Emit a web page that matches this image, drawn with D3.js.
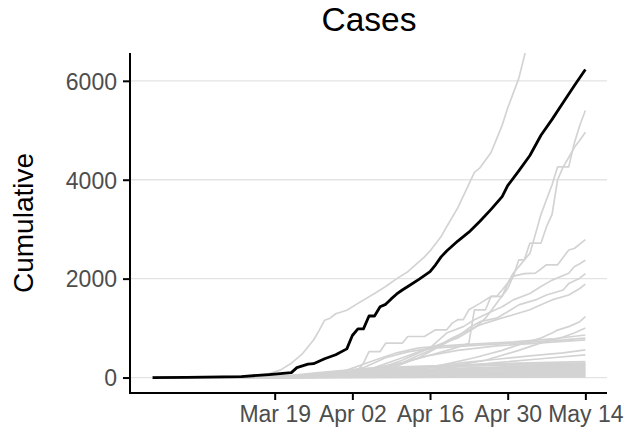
<!DOCTYPE html>
<html><head><meta charset="utf-8">
<script src="https://cdn.jsdelivr.net/npm/d3@7"></script>
<style>
html,body{margin:0;padding:0;background:#fff;}
svg{display:block;font-family:"Liberation Sans",Arial,Helvetica,sans-serif;}
</style></head>
<body><svg id="chart" width="626" height="436"></svg>
<script>
// ---- data ----
const startDate = "2020-02-26";
const endDate = "2020-05-14";
const yLimit = 6250;
const title = "Cases";
const yTitle = "Cumulative";
const yTicks = [0, 2000, 4000, 6000];
const xTickDates = ["2020-03-19", "2020-04-02", "2020-04-16", "2020-04-30", "2020-05-14"];
const xTickLabels = ["Mar 19", "Apr 02", "Apr 16", "Apr 30", "May 14"];

// highlighted (black) series: days since start, cumulative value
const totalDays = [0, 6, 16, 21, 25, 26, 28, 29, 30, 31, 33, 35, 36, 37, 38, 39, 40, 41, 42, 43, 44, 45, 46, 48, 50, 51, 52, 53, 55, 57, 59, 61, 63, 64, 66, 68, 70, 72, 74, 76, 78];
const totalValues = [0, 5, 20, 60, 100, 200, 270, 280, 330, 380, 460, 580, 850, 985, 985, 1245, 1245, 1430, 1480, 1590, 1690, 1770, 1840, 1985, 2140, 2280, 2440, 2560, 2760, 2940, 3160, 3400, 3660, 3880, 4180, 4490, 4900, 5220, 5560, 5900, 6230];

// grey series with their own read points
const grey1Days = [0, 14, 18, 21, 23, 25, 27, 29, 30, 31, 32, 33, 35, 37, 40, 42, 44, 46, 49, 50, 52, 53, 55, 58, 59, 61, 63, 64, 66, 67, 68, 70, 74, 78];
const grey1Values = [0, 10, 40, 80, 150, 290, 480, 760, 950, 1160, 1200, 1290, 1360, 1500, 1700, 1840, 2000, 2140, 2440, 2560, 2850, 3050, 3430, 4150, 4240, 4550, 5100, 5450, 6050, 6500, 6950, 7800, 9600, 11400];
const grey2Days = [0, 20, 30, 38, 45, 50, 54, 57, 58, 60, 61, 63, 64, 65, 66, 67, 68, 70, 71, 72, 73, 74, 75, 76, 77, 78];
const grey2Values = [0, 10, 60, 150, 300, 450, 580, 690, 1370, 1370, 1640, 1640, 1900, 2040, 2380, 2380, 2720, 2720, 3050, 3300, 4000, 4260, 4260, 4740, 5100, 5400];
const grey3Days = [0, 30, 37, 38, 39, 41, 42, 45, 46, 49, 51, 53, 54, 55, 56, 57, 59, 61, 62, 63, 64, 65, 66, 67, 68, 69, 70, 71, 72, 73, 74, 75, 76, 77, 78];
const grey3Values = [0, 20, 150, 290, 525, 525, 695, 695, 830, 830, 965, 965, 1100, 1170, 1170, 1370, 1500, 1640, 1640, 1770, 1910, 2110, 2240, 2380, 2510, 2900, 3300, 3600, 3900, 4260, 4260, 4450, 4650, 4800, 4960];
const grey4Days = [0, 30, 40, 45, 50, 55, 58, 60, 62, 64, 65, 67, 69, 71, 73, 75, 76, 78];
const grey4Values = [0, 30, 200, 400, 600, 800, 1000, 1200, 1500, 1800, 2050, 2100, 2110, 2280, 2280, 2580, 2610, 2790];
const grey5Days = [0, 35, 40, 45, 50, 53, 56, 58, 61, 63, 65, 68, 70, 72, 75, 76, 77, 78];
const grey5Values = [0, 40, 150, 350, 600, 900, 1030, 1170, 1330, 1430, 1570, 1700, 1840, 1970, 2110, 2240, 2300, 2370];
const grey6Days = [0, 35, 42, 48, 52, 55, 57, 59, 62, 64, 66, 69, 71, 74, 75, 77, 78];
const grey6Values = [0, 30, 150, 400, 650, 830, 1000, 1130, 1200, 1330, 1470, 1570, 1670, 1770, 1900, 2010, 2100];
const grey7Days = [0, 35, 40, 45, 50, 54, 57, 59, 62, 65, 68, 70, 72, 75, 77, 78];
const grey7Values = [0, 30, 120, 300, 550, 800, 960, 1065, 1170, 1270, 1370, 1470, 1570, 1670, 1800, 1890];
const grey8Days = [0, 40, 50, 58, 63, 67, 70, 72, 73, 75, 77, 78];
const grey8Values = [0, 50, 200, 400, 550, 700, 800, 900, 960, 1030, 1130, 1232];
const grey9Days = [0, 40, 50, 60, 66, 70, 74, 76, 78];
const grey9Values = [0, 40, 150, 350, 550, 700, 820, 900, 1000];
const grey10Days = [0, 30, 35, 40, 44, 48, 55, 65, 72, 78];
const grey10Values = [0, 30, 150, 350, 500, 600, 660, 720, 780, 860];
const grey11Days = [0, 32, 38, 42, 46, 50, 58, 66, 74, 78];
const grey11Values = [0, 40, 200, 400, 520, 590, 650, 700, 760, 800];
const grey12Days = [0, 35, 40, 45, 50, 55, 62, 70, 78];
const grey12Values = [0, 20, 150, 300, 450, 550, 640, 700, 760];
const grey13Days = [0, 38, 44, 50, 56, 62, 68, 74, 78];
const grey13Values = [0, 30, 120, 220, 300, 370, 440, 500, 560];
const grey14Days = [0, 40, 48, 55, 62, 70, 78];
const grey14Values = [0, 30, 120, 220, 300, 380, 460];

// low grey series sharing one grid of read days
const lowDays = [0, 22, 30, 38, 46, 54, 62, 70, 78];
const lowValues = [
  [0, 5, 60, 150, 210, 250, 280, 300, 320],
  [0, 10, 80, 160, 200, 230, 250, 270, 290],
  [0, 3, 40, 120, 180, 220, 250, 270, 280],
  [0, 8, 100, 180, 220, 240, 255, 265, 270],
  [0, 2, 30, 90, 140, 180, 210, 240, 260],
  [0, 5, 50, 110, 150, 180, 200, 220, 240],
  [0, 0, 20, 70, 120, 160, 190, 210, 225],
  [0, 3, 40, 90, 130, 160, 180, 195, 210],
  [0, 1, 25, 60, 100, 130, 160, 180, 195],
  [0, 4, 35, 80, 110, 140, 160, 175, 185],
  [0, 2, 20, 50, 80, 110, 130, 150, 170],
  [0, 0, 15, 40, 70, 100, 120, 140, 155],
  [0, 1, 20, 45, 65, 85, 105, 125, 140],
  [0, 0, 10, 30, 55, 75, 95, 110, 125],
  [0, 2, 15, 35, 50, 65, 80, 95, 110],
  [0, 0, 8, 25, 40, 55, 70, 85, 95],
  [0, 1, 10, 20, 35, 50, 60, 70, 80],
  [0, 0, 5, 15, 25, 35, 45, 55, 65],
  [0, 0, 4, 10, 18, 26, 34, 42, 50],
  [0, 0, 3, 8, 12, 18, 24, 30, 35],
  [0, 0, 2, 5, 8, 12, 16, 20, 25],
  [0, 0, 1, 3, 5, 8, 10, 12, 15]
];

// ---- build ----
const parse = d3.timeParse("%Y-%m-%d");
const t0 = parse(startDate), t1 = parse(endDate);
const toDate = n => d3.timeDay.offset(t0, n);
const zip = (days, vals) => days.map((d, i) => ({date: toDate(d), value: vals[i]}));

const greySeries = [
  zip(grey1Days, grey1Values), zip(grey2Days, grey2Values), zip(grey3Days, grey3Values),
  zip(grey4Days, grey4Values), zip(grey5Days, grey5Values), zip(grey6Days, grey6Values),
  zip(grey7Days, grey7Values), zip(grey8Days, grey8Values), zip(grey9Days, grey9Values),
  zip(grey10Days, grey10Values), zip(grey11Days, grey11Values), zip(grey12Days, grey12Values),
  zip(grey13Days, grey13Values), zip(grey14Days, grey14Values)
].concat(lowValues.map(v => zip(lowDays, v)));
const total = zip(totalDays, totalValues);

const W = 626, H = 436;
const panel = {left: 131, right: 607, top: 53, bottom: 393};
const span = t1 - t0, pad = span * 0.05;
const x = d3.scaleTime()
  .domain([new Date(+t0 - pad), new Date(+t1 + pad)])
  .range([panel.left, panel.right]);
const y = d3.scaleLinear()
  .domain([-0.05 * yLimit, 1.05 * yLimit])
  .range([panel.bottom, panel.top]);

const svg = d3.select("#chart");
svg.append("defs").append("clipPath").attr("id", "clip")
  .append("rect").attr("x", panel.left).attr("y", panel.top)
  .attr("width", panel.right - panel.left).attr("height", panel.bottom - panel.top);

// gridlines
svg.append("g").selectAll("line").data(yTicks).join("line")
  .attr("x1", panel.left).attr("x2", panel.right)
  .attr("y1", d => y(d)).attr("y2", d => y(d))
  .attr("stroke", "#e3e3e3").attr("stroke-width", 1.3);

const line = d3.line().x(d => x(d.date)).y(d => y(d.value));
const plot = svg.append("g").attr("clip-path", "url(#clip)");
plot.selectAll("path.grey").data(greySeries).join("path")
  .attr("class", "grey").attr("d", line)
  .attr("fill", "none").attr("stroke", "#d3d3d3").attr("stroke-width", 1.7)
  .attr("stroke-linejoin", "round");
plot.append("path").datum(total).attr("d", line)
  .attr("fill", "none").attr("stroke", "#000").attr("stroke-width", 2.8)
  .attr("stroke-linejoin", "round");

// axes
const yAxis = svg.append("g").attr("transform", `translate(${panel.left - 1},0)`)
  .call(d3.axisLeft(y).tickValues(yTicks).tickSize(7).tickPadding(6).tickFormat(d3.format("d")));
const xAxis = svg.append("g").attr("transform", `translate(0,${panel.bottom})`)
  .call(d3.axisBottom(x).tickValues(xTickDates.map(parse)).tickSize(7).tickPadding(5)
    .tickFormat((d, i) => xTickLabels[i]));
[yAxis, xAxis].forEach(a => {
  a.select(".domain").remove();
  a.selectAll(".tick line").attr("stroke", "#000").attr("stroke-width", 2);
  a.selectAll(".tick text").attr("fill", "#4d4d4d").style("font-size", "23px")
    .style("font-family", "'Liberation Sans', Arial, sans-serif");
});
yAxis.selectAll(".tick text").attr("dy", "0.36em");
xAxis.selectAll(".tick text").attr("dy", "0.72em");

// axis lines
svg.append("line").attr("x1", panel.left - 1).attr("x2", panel.left - 1)
  .attr("y1", panel.top).attr("y2", panel.bottom + 1)
  .attr("stroke", "#000").attr("stroke-width", 2);
svg.append("line").attr("x1", panel.left - 2).attr("x2", panel.right)
  .attr("y1", panel.bottom).attr("y2", panel.bottom)
  .attr("stroke", "#000").attr("stroke-width", 2);

// titles
svg.append("text").attr("x", (panel.left + panel.right) / 2).attr("y", 31)
  .attr("text-anchor", "middle").style("font-size", "33.5px").attr("fill", "#000").text(title);
svg.append("text").attr("transform", `translate(33,${(panel.top + panel.bottom) / 2}) rotate(-90)`)
  .attr("text-anchor", "middle").style("font-size", "28px").attr("fill", "#000").text(yTitle);
</script></body></html>
